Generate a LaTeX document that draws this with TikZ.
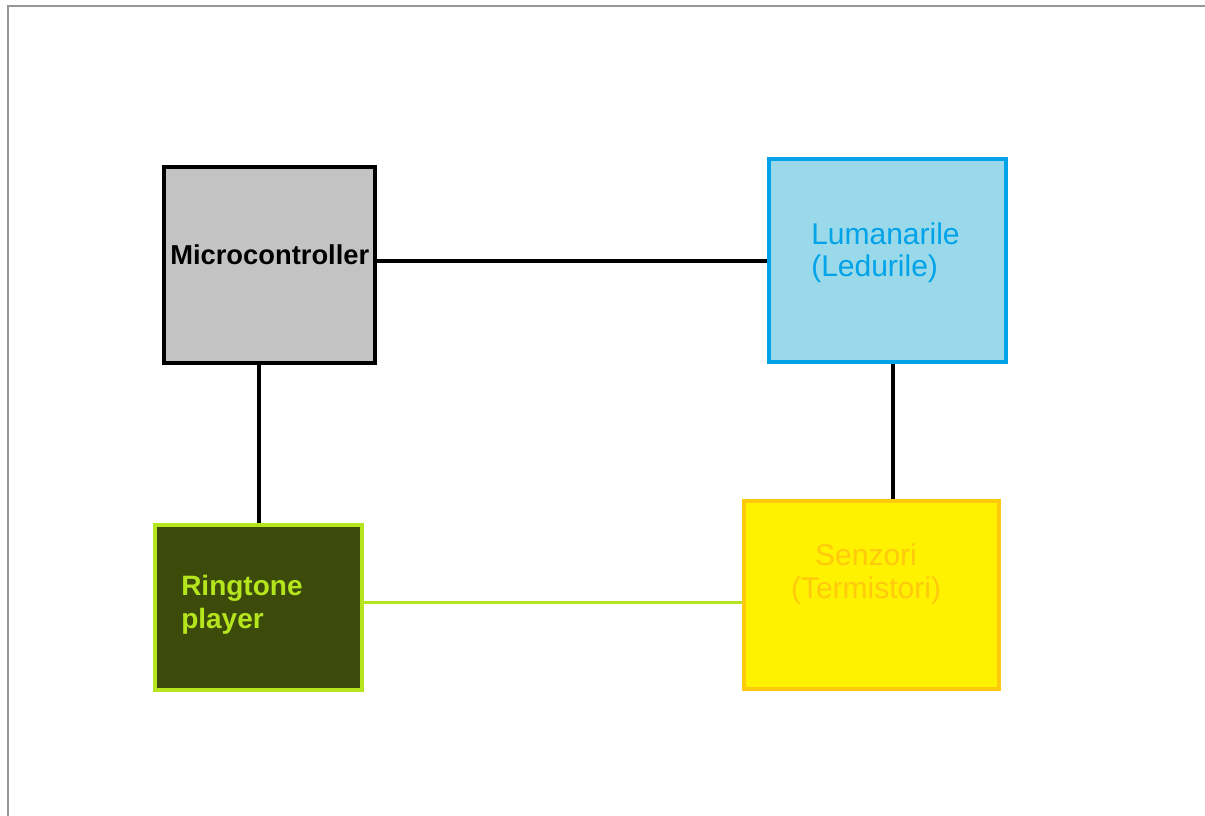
\documentclass[tikz,border=0pt]{standalone}
\usepackage{fontspec}
\setmainfont{Liberation Sans}
\usepackage{tikz}
\usetikzlibrary{calc}
\definecolor{frame}{RGB}{150, 150, 150}
\definecolor{mcgray}{RGB}{195, 195, 195}
\definecolor{ledfill}{RGB}{153, 217, 234}
\definecolor{ledline}{RGB}{0, 162, 232}
\definecolor{olive}{RGB}{61, 75, 10}
\definecolor{lime}{RGB}{181, 230, 29}
\definecolor{sunfill}{RGB}{255, 242, 0}
\definecolor{sunline}{RGB}{255, 201, 14}
\tikzset{
  block/.style={rectangle, line width=3pt, inner sep=0pt},
  caption/.style={font=\fontsize{21}{25}\selectfont, inner sep=0pt},
  wire/.style={line width=3pt}
}

\begin{document}
\begin{tikzpicture}[x=0.75pt, y=-0.75pt]

  \useasboundingbox (0, 0) rectangle (1205, 816);
  \draw[frame, line width=1.5pt] (7.5, 816) -- (7.5, 6.5) -- (1205, 6.5);

  \node[block, draw=black, fill=mcgray, minimum width=158.25pt, minimum height=147pt]
    (micro) at (269.5, 265) {};
  \node[block, draw=ledline, fill=ledfill, minimum width=177.75pt, minimum height=152.25pt]
    (leds) at (887.5, 260.5) {};
  \node[block, draw=lime, fill=olive, minimum width=155.25pt, minimum height=123.75pt]
    (ring) at (258.5, 607.5) {};
  \node[block, draw=sunline, fill=sunfill, minimum width=191.25pt, minimum height=141pt]
    (senz) at (871.5, 595) {};

  \node[caption, anchor=base west, font=\bfseries\fontsize{20.5}{25}\selectfont]
    (microtxt) at (170, 265) {Microcontroller};
  \node[caption, anchor=base west, align=left, text=ledline, font=\fontsize{22.5}{24.5}\selectfont]
    (ledstxt) at (811, 277) {Lumanarile\\(Ledurile)};
  \node[caption, anchor=base west, align=left, text=lime, font=\bfseries\fontsize{21}{24.75}\selectfont]
    (ringtxt) at (181, 628) {Ringtone\\player};
  \node[caption, anchor=base, align=center, text=sunline, font=\fontsize{22.5}{24.75}\selectfont]
    (senztxt) at (866, 598) {Senzori\\(Termistori)};

  \draw[wire] ([yshift=3pt]micro.east) -- ([yshift=3pt]micro.east -| leds.west);
  \draw[wire] (ring.north) -- (ring.north |- micro.south);
  \draw[wire] ([xshift=4pt]leds.south) -- ([xshift=4pt]leds.south |- senz.north);
  \draw[wire, lime, line width=2.25pt] ([yshift=4pt]ring.east) -- ([yshift=4pt]ring.east -| senz.west);

\end{tikzpicture}
\end{document}
